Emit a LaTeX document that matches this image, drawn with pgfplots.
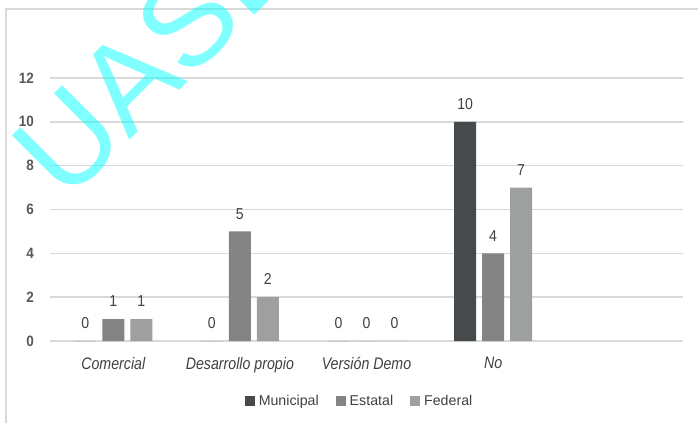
\documentclass[border=0pt]{standalone}
\usepackage{fontspec}
\setmainfont{Liberation Sans}
\newfontfamily\tickfont{Liberation Sans}[FakeStretch=0.9]
\newfontfamily\catfont{Liberation Sans}[FakeStretch=0.85]
\newfontfamily\lblfont{Liberation Sans}[FakeStretch=0.89]
\usepackage{pgfplots}
\pgfplotsset{compat=1.18}

\definecolor{muni}{RGB}{70,74,76}
\definecolor{esta}{RGB}{131,133,133}
\definecolor{fede}{RGB}{158,160,160}
\definecolor{gridc}{RGB}{217,217,217}
\definecolor{txt}{RGB}{64,64,64}
\definecolor{tickc}{RGB}{89,89,89}
\definecolor{wm}{RGB}{0,255,255}

\pgfplotsset{
  sq legend/.style={legend image code/.code={\fill[##1] (0pt,-5pt) rectangle (10pt,5pt);}},
}

\begin{document}
\begin{tikzpicture}
\path[use as bounding box] (0pt,0pt) rectangle (698pt,423pt);
% chart frame
\draw[gridc, line width=2pt] (6pt,0pt) -- (6pt,414pt) -- (698pt,414pt);
\begin{axis}[
  at={(50pt,82pt)}, anchor=south west,
  scale only axis, width=633pt, height=263pt,
  xmin=-0.5, xmax=4.5, ymin=0, ymax=12,
  axis line style={draw=none},
  major tick length=0pt,
  ymajorgrids, grid style={gridc, line width=1.4pt},
  ytick={0,2,...,12},
  xtick={0,1,2,3},
  xticklabels={Comercial, Desarrollo propio, Versión Demo, No},
  /pgf/number format/assume math mode=true,
  yticklabel style={font=\tickfont\bfseries\fontsize{15}{15}\selectfont, text=tickc, anchor=east, inner sep=0pt, xshift=-16pt},
  xticklabel style={font=\catfont\itshape\fontsize{16.7}{16.7}\selectfont, text=txt, anchor=north, inner sep=0pt, yshift=-16pt},
  ybar=6pt, bar width=22pt,
  nodes near coords,
  nodes near coords style={font=\lblfont\fontsize{15.8}{15.8}\selectfont, text=txt, anchor=south, inner sep=0pt, yshift=12pt},
  legend columns=3,
  legend style={at={(0.489,-0.228)}, anchor=center, draw=none, fill=none,
    font=\fontsize{14.2}{14.2}\selectfont, text=txt, inner sep=0pt,
    nodes={inner sep=2pt},
    /tikz/every odd column/.append style={column sep=2pt},
    /tikz/every even column/.append style={column sep=15pt}},
]
\addplot[fill=muni, draw=none, sq legend] coordinates {(0,0) (1,0) (2,0) (3,10)};
\addplot[fill=esta, draw=none, sq legend] coordinates {(0,1) (1,5) (2,0) (3,4)};
\addplot[fill=fede, draw=none, sq legend] coordinates {(0,1) (1,2) (2,0) (3,7)};
\legend{Municipal, Estatal, Federal}
\end{axis}
% watermark
\node[rotate=45, anchor=base west, inner sep=0pt, text=wm, opacity=0.5,
  font=\fontsize{125}{125}\selectfont] at (66pt,219pt) {UASD};
\end{tikzpicture}
\end{document}
